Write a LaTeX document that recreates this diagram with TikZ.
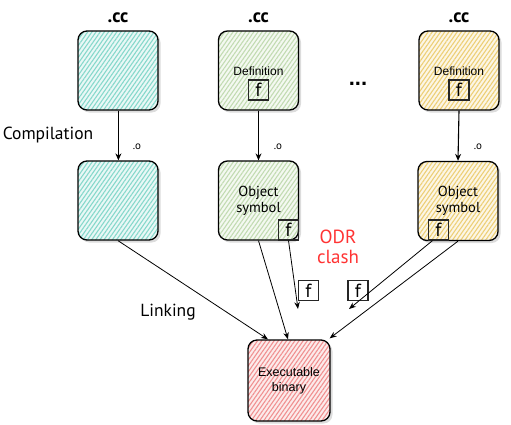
\documentclass[tikz,border=0pt]{standalone}
\usepackage{fontspec}
\setmainfont{Liberation Sans}
\newfontfamily\comic{PT Sans}
\usetikzlibrary{patterns.meta,shadows,arrows.meta,calc}
\definecolor{tealc}{HTML}{86D8CB}
\definecolor{greenc}{HTML}{C2DBB2}
\definecolor{yellowc}{HTML}{EDCF76}
\definecolor{redc}{HTML}{F09090}
\definecolor{odrred}{HTML}{FF3333}
\begin{document}
\begin{tikzpicture}[x=1pt,y=-1pt,
  card/.style={draw=black, line width=1.3pt, rounded corners=9pt,
    minimum width=80pt, minimum height=79pt, inner sep=0pt, align=center,
    drop shadow={shadow xshift=2.5pt, shadow yshift=-2.5pt, fill=gray!60, opacity=0.45}},
  hatch/.style={preaction={fill=#1!18}, pattern={Lines[angle=55,distance=3.4pt,line width=1.1pt]}, pattern color=#1},
  fbox/.style={draw=black!85, line width=1.2pt, minimum width=20pt, minimum height=20pt, inner sep=0pt, font=\comic\fontsize{19}{19}\selectfont},
  lbl/.style={font=\comic\fontsize{17.5}{20}\selectfont},
  cc/.style={font=\comic\bfseries\fontsize{19}{20}\selectfont},
  small/.style={font=\comic\fontsize{11}{11}\selectfont},
  otext/.style={font=\comic\fontsize{14.5}{16}\selectfont, align=center},
  dtext/.style={font=\fontsize{12}{15}\selectfont, align=center},
  conn/.style={line width=1.1pt, -{Stealth[length=7pt,width=6pt]}},
  link/.style={line width=0.8pt, -{Stealth[length=7pt,width=5.5pt]}}
]
\useasboundingbox (0,0) rectangle (511,424);

% top row
\node[card, hatch=tealc] (A1) at (118,70.5) {};
\node[card, hatch=greenc] (B1) at (258.5,70.5) {};
\node[card, hatch=yellowc] (C1) at (459,70.5) {};
% middle row
\node[card, hatch=tealc] (A2) at (118,200.5) {};
\node[card, hatch=greenc] (B2) at (258.5,200.5) {};
\node[card, hatch=yellowc] (C2) at (458,201) {};
% bottom
\node[card, hatch=redc, minimum width=82pt, minimum height=81pt] (E) at (289,380.5) {};

% labels
\node[cc] (ccA) at (118,18) {.cc};
\node[cc] (ccB) at (258.5,18) {.cc};
\node[cc] (ccC) at (459,18) {.cc};
\node[font=\fontsize{22}{22}\selectfont\bfseries] (dots) at (358,84) {...};
\node[lbl] (comp) at (48,135) {Compilation};
\node[lbl] (link) at (168,312) {Linking};
\node[text=odrred, align=center, font=\comic\fontsize{19}{20}\selectfont] (odr) at (338,247) {ODR\\clash};

\node[small] (oA) at (137,147) {.o};
\node[small] (oB) at (278,147) {.o};
\node[small] (oC) at (478,147) {.o};

\node[dtext] (defB) at (258.5,71) {Definition};
\node[dtext] (defC) at (459,71) {Definition};
\node[otext] (objB) at (258.5,201) {Object\\symbol};
\node[otext] (objC) at (458,201) {Object\\symbol};
\node[dtext, font=\fontsize{12.5}{15}\selectfont] (exe) at (289,380.5) {Executable\\binary};

% f boxes
\node[fbox] (fB1) at (258.5,90) {f};
\node[fbox] (fC1) at (459,90) {f};
\node[fbox] (fB2) at (288.5,230) {f};
\node[fbox] (fC2) at (438.5,230) {f};
\node[fbox, fill=white] (fL) at (308.5,290.5) {f};
\node[fbox, fill=white] (fR) at (358,290.5) {f};

\coordinate (endL) at (298,309);
\coordinate (endR) at (349,309);

% compilation arrows
\draw[conn] ([xshift=0.4pt]A1.south) -- ([xshift=0.4pt]A2.north);
\draw[conn] (B1.south) -- (B2.north);
\draw[conn] (C1.south) -- (C2.north);

% linking arrows
\draw[link] (A2.south) -- ([xshift=-21pt]E.north);
\draw[link] (B2.south) -- ([xshift=-1pt]E.north);
\draw[link] (fB2.south) -- (endL);
\draw[link] ([xshift=-6pt]fC2.south) -- (endR);
\draw[link] (C2.south) -- ([xshift=-1pt,yshift=1pt]E.north east);
\end{tikzpicture}
\end{document}
